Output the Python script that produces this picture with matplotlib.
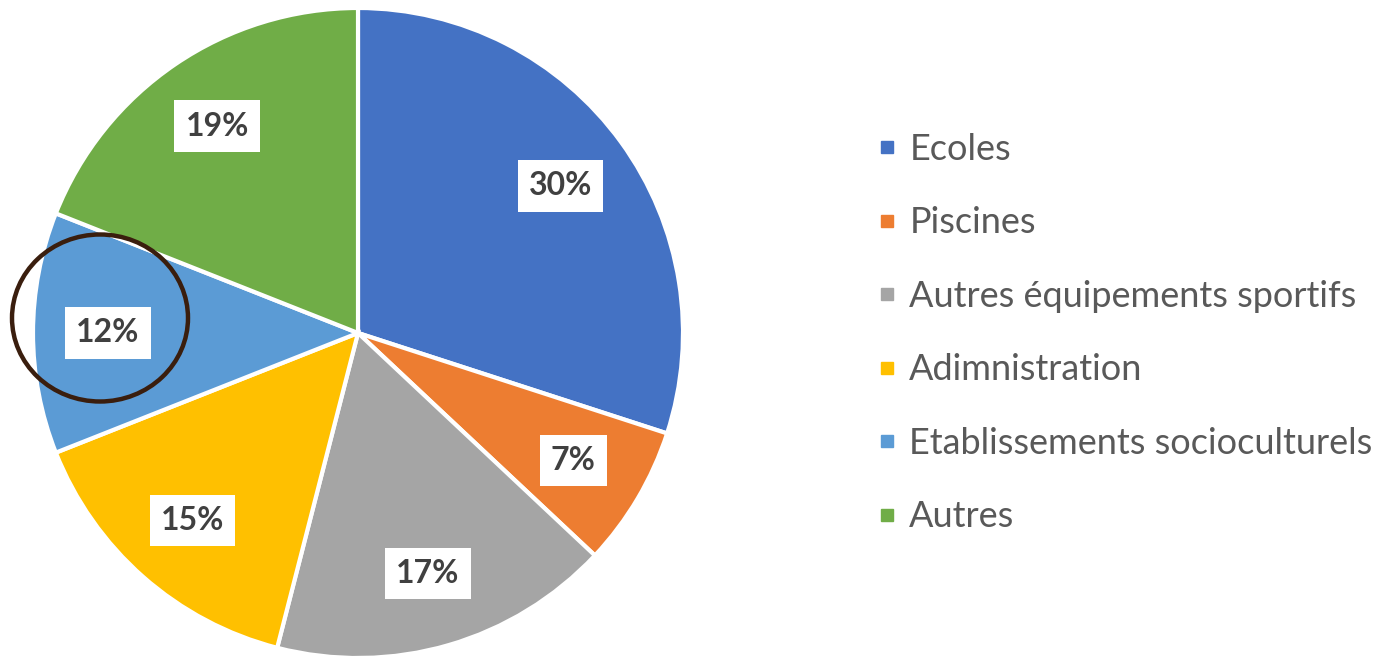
import matplotlib.pyplot as plt
from matplotlib.patches import Ellipse
from matplotlib.lines import Line2D

# data
categories = ["Ecoles", "Piscines", "Autres équipements sportifs",
              "Adimnistration", "Etablissements socioculturels", "Autres"]
shares = [30, 7, 17, 15, 12, 19]
colors = ["#4472C4", "#ED7D31", "#A5A5A5", "#FFC000", "#5B9BD5", "#70AD47"]

W, H = 1383, 656
fig = plt.figure(figsize=(W / 100, H / 100), dpi=100)

# pie axes: center (358, 333) px, radius 325 px
cx, cy, r = 358, 333, 325
ax = fig.add_axes([(cx - r) / W, (H - cy - r) / H, 2 * r / W, 2 * r / H])
wedges, texts = ax.pie(
    shares, colors=colors, startangle=90, counterclock=False,
    labels=[f"{v}%" for v in shares], labeldistance=0.77,
    wedgeprops=dict(edgecolor="white", linewidth=3),
    textprops=dict(fontsize=23, fontweight="bold", color="#404040",
                   family="Lato", ha="center", va="center"),
)
for t in texts:
    t.set_bbox(dict(facecolor="white", edgecolor="none", pad=8))
ax.set_xlim(-1, 1)
ax.set_ylim(-1, 1)
ax.set_aspect("equal")
ax.axis("off")

# circle around 12% label
ax.add_patch(Ellipse(((100 - cx) / r, (cy - 318) / r), 176 / r, 167 / r,
                     fill=False, edgecolor="#3A1E0E", linewidth=3.2,
                     clip_on=False))

handles = [Line2D([], [], marker="s", linestyle="none", markersize=9,
                  markerfacecolor=c, markeredgecolor=c) for c in colors]
fig.legend(handles, categories, loc="upper left",
           bbox_to_anchor=(875 / W, 1 - 133 / H), frameon=False,
           prop=dict(family="Lato", size=26), labelcolor="#595959",
           handletextpad=0.27, handlelength=0.68, labelspacing=1.12,
           borderpad=0, borderaxespad=0)

fig.savefig("out.png", dpi=100)
